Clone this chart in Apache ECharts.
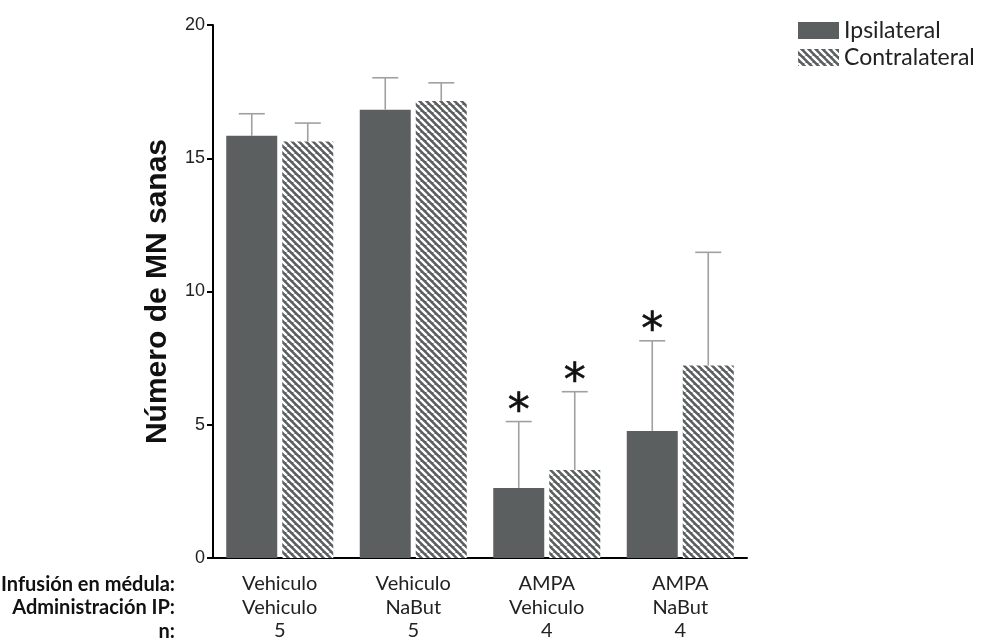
<!DOCTYPE html>
<html>
<head>
<meta charset="utf-8">
<script src="https://cdn.jsdelivr.net/npm/echarts@6/dist/echarts.min.js"></script>
<style>html,body{margin:0;padding:0;background:#fff}#c{width:987px;height:639px}</style>
</head>
<body>
<div id="c"></div>
<script>
// ---- data ----
const infusion = ['Vehiculo', 'Vehiculo', 'AMPA', 'AMPA'];
const admin = ['Vehiculo', 'NaBut', 'Vehiculo', 'NaBut'];
const nValues = ['5', '5', '4', '4'];
const rowLabels = ['Infusión en médula:', 'Administración IP:', 'n:'];
const seriesNames = ['Ipsilateral', 'Contralateral'];
const ipsi = [15.84, 16.82, 2.63, 4.77];
const ipsiErr = [0.83, 1.20, 2.49, 3.38];
const contra = [15.63, 17.15, 3.30, 7.22];
const contraErr = [0.69, 0.68, 2.94, 4.25];
const ipsiSig = [false, false, true, true];
const contraSig = [false, false, true, false];
const yTicks = [0, 5, 10, 15, 20];
const yTitle = 'Número de MN sanas';

// ---- style ----
const DARK = '#5b5f60';
const BAR_W = 51, GAP = 5;
const ROW_H = 23.5, ROW_TOP = 574.5;
function hatch() {
  const s = 7, c = document.createElement('canvas');
  c.width = c.height = s;
  const g = c.getContext('2d');
  g.fillStyle = DARK; g.fillRect(0, 0, s, s);
  g.strokeStyle = '#fff'; g.lineWidth = 2.4;
  g.beginPath();
  for (const k of [-s, 0, s]) { g.moveTo(k, 0); g.lineTo(k + s, s); }
  g.stroke();
  return c;
}
const hatchFill = { image: hatch(), repeat: 'repeat' };

function errSeries(vals, errs, sig, dir) {
  return {
    type: 'custom',
    z: 5,
    silent: true,
    data: vals.map((v, i) => [i, v, v + errs[i], sig[i] ? 1 : 0]),
    renderItem: (params, api) => {
      const b = api.coord([api.value(0), api.value(1)]);
      const t = api.coord([api.value(0), api.value(2)]);
      const x = b[0] + dir * (BAR_W + GAP) / 2;
      const st = { stroke: '#a0a0a0', lineWidth: 1.6 };
      const ch = [
        { type: 'line', shape: { x1: x, y1: b[1], x2: x, y2: t[1] }, style: st },
        { type: 'line', shape: { x1: x - 13, y1: t[1], x2: x + 13, y2: t[1] }, style: st }
      ];
      if (api.value(3)) {
        ch.push({ type: 'text', style: { text: '*', x: x, y: t[1] + 14, align: 'center', verticalAlign: 'bottom',
          fontSize: 44, fontFamily: 'DejaVu Sans', fill: '#111', stroke: '#111', lineWidth: 0.6 } });
      }
      return { type: 'group', children: ch };
    }
  };
}

const chart = echarts.init(document.getElementById('c'), null, { renderer: 'canvas' });
chart.setOption({
  animation: false,
  grid: { left: 213, right: 240, top: 25, bottom: 81, containLabel: false, outerBoundsMode: 'none' },
  legend: {
    orient: 'vertical', left: 793, top: 14, itemWidth: 41, itemHeight: 17, itemGap: 4,
    icon: 'rect',
    textStyle: { fontSize: 23, fontFamily: 'Lato', color: '#222' },
    data: seriesNames
  },
  xAxis: {
    type: 'category', data: infusion,
    axisLine: { lineStyle: { color: '#000', width: 2 } },
    axisTick: { show: false },
    axisLabel: {
      margin: 14, fontSize: 20, lineHeight: ROW_H, fontFamily: 'Lato', color: '#222',
      formatter: (v, i) => infusion[i] + '\n' + admin[i] + '\n' + nValues[i]
    }
  },
  yAxis: {
    type: 'value', min: yTicks[0], max: yTicks[yTicks.length - 1], interval: 5,
    name: yTitle, nameLocation: 'middle', nameGap: 40,
    nameTextStyle: { fontSize: 30, fontWeight: 'bold', fontFamily: 'Liberation Sans', color: '#111' },
    axisLine: { show: true, lineStyle: { color: '#000', width: 2 } },
    axisTick: { show: true, length: 6, lineStyle: { color: '#000', width: 2 } },
    axisLabel: { margin: 8, fontSize: 18, fontFamily: 'Liberation Sans', color: '#222' },
    splitLine: { show: false }
  },
  graphic: rowLabels.map((t, i) => ({
    type: 'text', x: 175, y: ROW_TOP + i * ROW_H,
    style: { text: t, align: 'right', verticalAlign: 'top', fontSize: 20,
      fontWeight: 'bold', fontFamily: 'Lato', fill: '#111' }
  })),
  series: [
    { name: seriesNames[0], type: 'bar', data: ipsi, barWidth: BAR_W, barGap: (GAP / BAR_W * 100) + '%',
      itemStyle: { color: DARK } },
    { name: seriesNames[1], type: 'bar', data: contra, barWidth: BAR_W,
      itemStyle: { color: hatchFill } },
    errSeries(ipsi, ipsiErr, ipsiSig, -1),
    errSeries(contra, contraErr, contraSig, 1)
  ]
});
</script>
</body>
</html>
